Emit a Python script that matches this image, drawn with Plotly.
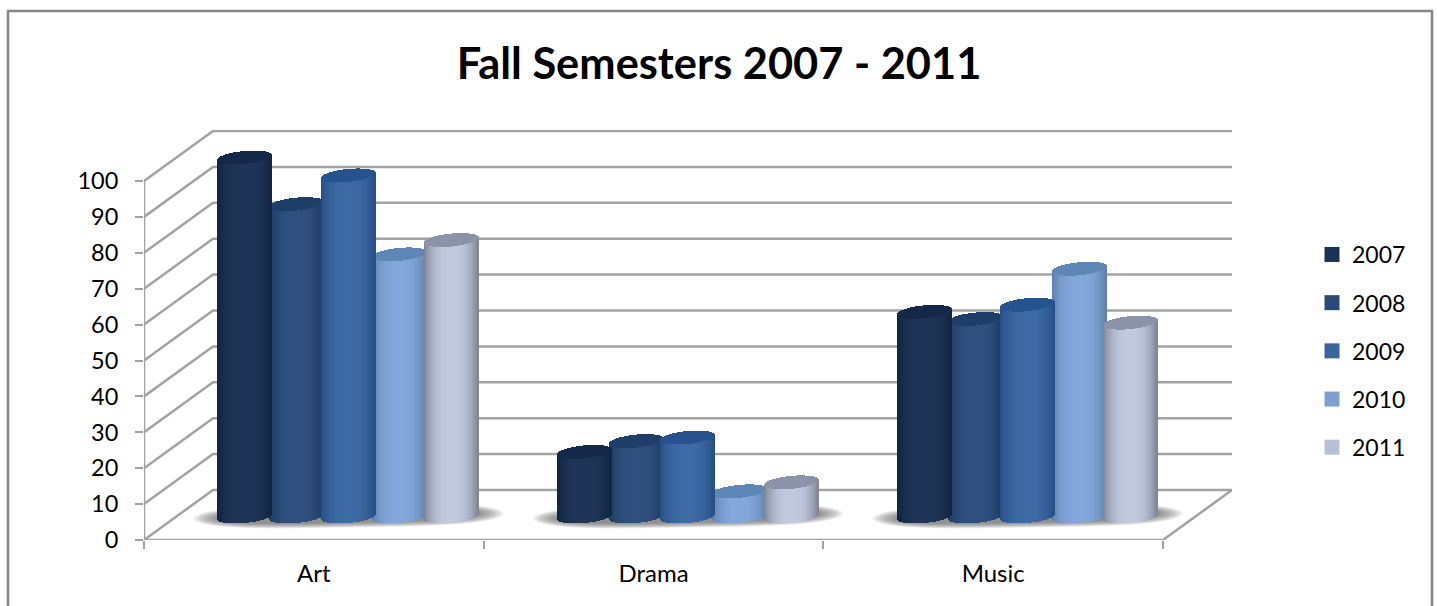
import numpy as np
import plotly.graph_objects as go

# ---- data ----
categories = ["Art", "Drama", "Music"]
years = ["2007", "2008", "2009", "2010", "2011"]
v2007 = [100, 18, 57]
v2008 = [87, 21, 55]
v2009 = [95, 22, 59]
v2010 = [73, 7, 69]
v2011 = [77, 9.5, 54]
series = [v2007, v2008, v2009, v2010, v2011]
y_ticks = list(range(0, 101, 10))

# ---- style / layout constants ----
W, H = 1437, 606
PL, PR, PT, PB = 144, 1232, 130, 540          # plot area in pixels
CAT_PX = (1163 - 144) / 3                     # pixels per category
UNIT_PX = 359 / 100                           # pixels per value unit
DX = (PR - 1163) / CAT_PX                     # depth offset in axis units
DY = 50 / UNIT_PX
X_MAX = 3 + DX
Y_MAX = (PB - PT) / UNIT_PX
BAR_BASE = 23.5 / UNIT_PX                     # bars stand mid-depth on the floor
BAR_W = 54 / CAT_PX
BAR_STEP = 51.7 / CAT_PX
RY = 6.5 / UNIT_PX
SKEW = 2.5 / UNIT_PX
N_STRIPS = 54
GRID = "#a2a2a2"
FRAME = "#868686"
FONT = "Lato"

centre = ["#1f3659", "#30517f", "#3e6aa6", "#84a8dc", "#c2cae0"]
edge = ["#12243e", "#1c3a60", "#264f84", "#5f80ae", "#7f8494"]
cap = ["#15284a", "#1e3d68", "#25538d", "#5f87b6", "#8a93a8"]
swatch = ["#1c3254", "#2a4a78", "#3a66a0", "#7f9fd0", "#b8c0d6"]
draw_order = [1, 3, 0, 2, 4]


def rgb(h):
    return np.array([int(h[i:i + 2], 16) for i in (1, 3, 5)], float)


def mix(a, b, t):
    c = rgb(a) * (1 - t) + rgb(b) * t
    return "rgb(%d,%d,%d)" % tuple(c)


def soft_blob(cx, cy, hw, ry, tilt):
    """Rounded, slightly tilted blob as a closed path in axis units."""
    ts = np.linspace(0, 2 * np.pi, 60, endpoint=False)
    px = np.sign(np.cos(ts)) * np.abs(np.cos(ts)) ** 0.5
    pts = [f"{cx + hw * a:.4f},{cy + ry * np.sin(t) + tilt * a:.3f}" for t, a in zip(ts, px)]
    return "M " + " L ".join(pts) + " Z"


fig = go.Figure()
us = (np.arange(N_STRIPS) + 0.5) / N_STRIPS * 2 - 1
strip_w = BAR_W / N_STRIPS

for s in draw_order:
    xs, bases, heights, cols = [], [], [], []
    body_cols = [mix(centre[s], edge[s], abs(u) ** 2.6) for u in us]
    for c, val in enumerate(series[s]):
        cx = c + 0.5 + DX / 2 + (s - 2) * BAR_STEP
        for u, col in zip(us, body_cols):
            arc = RY * np.sqrt(1 - u * u)
            tilt = SKEW * u
            x = cx + u * BAR_W / 2
            low = BAR_BASE + tilt - arc
            top_front = BAR_BASE + val + tilt - arc
            top_back = BAR_BASE + val + tilt + arc
            xs += [x, x]
            bases += [low, top_front]
            heights += [top_front - low, top_back - top_front]
            cols += [col, cap[s]]
    fig.add_trace(go.Bar(x=xs, y=heights, base=bases, width=strip_w * 1.35,
                         marker=dict(color=cols, line=dict(width=0)),
                         showlegend=False, hoverinfo="skip"))

for s, yr in enumerate(years):
    fig.add_trace(go.Scatter(x=[None], y=[None], mode="markers", name=yr,
                             legendgroup=yr,
                             marker=dict(symbol="square", size=15, color=swatch[s])))

shapes = []
line = dict(color=GRID, width=2.5)
for v in y_ticks:
    shapes.append(dict(type="path", layer="below", xref="x", yref="y", line=line,
                       path=f"M 0,{v} L {DX},{v + DY} L {X_MAX},{v + DY}"))
shapes.append(dict(type="path", layer="below", xref="x", yref="y", line=line,
                   path=f"M 0,100 L 0,0 L 3,0 L {X_MAX},{DY}"))
for c in range(3):
    cx = c + 0.5 + DX / 2
    for k in np.linspace(0, 1, 12):
        hw = (155 - 24 * k) / CAT_PX
        ry = (11.5 - 5 * k) / UNIT_PX
        shapes.append(dict(type="path", layer="below", xref="x", yref="y",
                           path=soft_blob(cx, BAR_BASE + 0.5 / UNIT_PX, hw, ry, 2.5 / UNIT_PX),
                           fillcolor="rgba(90,90,90,0.085)", line=dict(width=0)))
# outer chart frame, running off the bottom of the page
shapes.append(dict(type="rect", xref="paper", yref="paper", layer="below",
                   x0=(8 - PL) / (PR - PL), x1=(1432 - PL) / (PR - PL),
                   y0=(PB - 625) / (PB - PT), y1=(PB - 11) / (PB - PT),
                   line=dict(color=FRAME, width=2.5)))

fig.update_layout(
    width=W, height=H,
    margin=dict(l=PL, r=W - PR, t=PT, b=H - PB, pad=0, autoexpand=False),
    paper_bgcolor="white", plot_bgcolor="rgba(0,0,0,0)",
    barmode="overlay", bargap=0,
    font=dict(family=FONT, color="black", size=22),
    title=dict(text="Fall Semesters 2007 - 2011", x=719 / W, xref="container", xanchor="center",
               y=1 - 64 / H, yref="container", yanchor="middle",
               font=dict(family=FONT, size=43.4, weight=700, color="black")),
    xaxis=dict(range=[0, X_MAX], showgrid=False, zeroline=False, showline=False,
               tickmode="array", tickvals=[0.5, 1.5, 2.5], ticktext=categories,
               ticks="", ticklabelstandoff=17,
               tickfont=dict(size=24),
               minor=dict(tickmode="array", tickvals=[0, 1, 2, 3], ticks="outside",
                          ticklen=8, tickwidth=2, tickcolor=GRID, showgrid=False)),
    yaxis=dict(range=[0, Y_MAX], showgrid=False, zeroline=False, showline=False,
               tickmode="array", tickvals=y_ticks, ticks="outside", ticklen=8,
               tickwidth=2, tickcolor=GRID, ticklabelstandoff=12,
               tickfont=dict(size=23.5)),
    legend=dict(x=(1312 - PL) / (PR - PL), xanchor="left",
                y=(PB - 233) / (PB - PT), yanchor="top",
                font=dict(size=23), tracegroupgap=15.3, bgcolor="rgba(0,0,0,0)",
                traceorder="grouped"),
    shapes=shapes,
)

fig.write_html("out.html", config={"displayModeBar": False},
               post_script="document.body.style.margin='0';document.body.style.overflow='hidden';")
